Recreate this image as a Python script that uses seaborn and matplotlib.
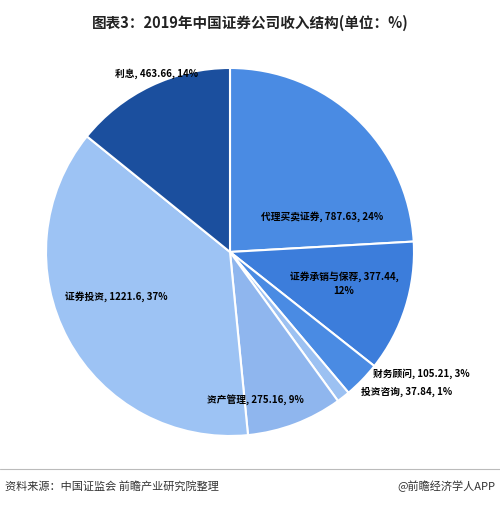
import matplotlib
matplotlib.use('Agg')
import matplotlib.pyplot as plt
import seaborn as sns

sns.set_theme(style='white')
plt.rcParams['font.family'] = ['Noto Sans CJK SC', 'DejaVu Sans']

labels = ['代理买卖证券', '证券承销与保荐', '财务顾问', '投资咨询', '资产管理', '证券投资', '利息']
values = [787.63, 377.44, 105.21, 37.84, 275.16, 1221.6, 463.66]
pcts = ['24%', '12%', '3%', '1%', '9%', '37%', '14%']
colors = ['#4a8be3', '#3c7ddb', '#4a8be3', '#9cc1f2', '#8fb6ee', '#9dc3f4', '#1b4f9e']

# label text positions (pie radius = 1)
label_xy = [(0.50, 0.19), (0.62, -0.17), (1.04, -0.66), (0.96, -0.76),
            (0.14, -0.80), (-0.62, -0.24), (-0.40, 0.97)]

fig = plt.figure(figsize=(5, 5.07), dpi=100)
ax = fig.add_axes([0.092, 0.14, 0.736, 0.726])
ax.pie(values, colors=colors, startangle=90, counterclock=False,
       wedgeprops=dict(edgecolor='white', linewidth=1.5))
ax.set_aspect('equal')
ax.set_xlim(-1.0, 1.0)
ax.set_ylim(-1.0, 1.0)

for lab, v, p, (x, y) in zip(labels, values, pcts, label_xy):
    if lab == '证券承销与保荐':
        txt = f'{lab}, {v:g},\n{p}'
    else:
        txt = f'{lab}, {v:g}, {p}'
    ax.text(x, y, txt, ha='center', va='center', fontsize=7, color='black',
            fontweight='bold', linespacing=1.5)

fig.text(0.5, 0.955, '图表3：2019年中国证券公司收入结构(单位：%)', ha='center', va='center',
         fontsize=10.5, fontweight='bold', color='#222222')
fig.add_artist(plt.Line2D([0.0, 1.0], [0.075, 0.075], color='#bbbbbb', linewidth=0.8))
fig.text(0.01, 0.04, '资料来源：中国证监会 前瞻产业研究院整理', ha='left', va='center',
         fontsize=8, color='#333333')
fig.text(0.99, 0.04, '@前瞻经济学人APP', ha='right', va='center', fontsize=8, color='#333333')

fig.savefig('out.png', dpi=100)
